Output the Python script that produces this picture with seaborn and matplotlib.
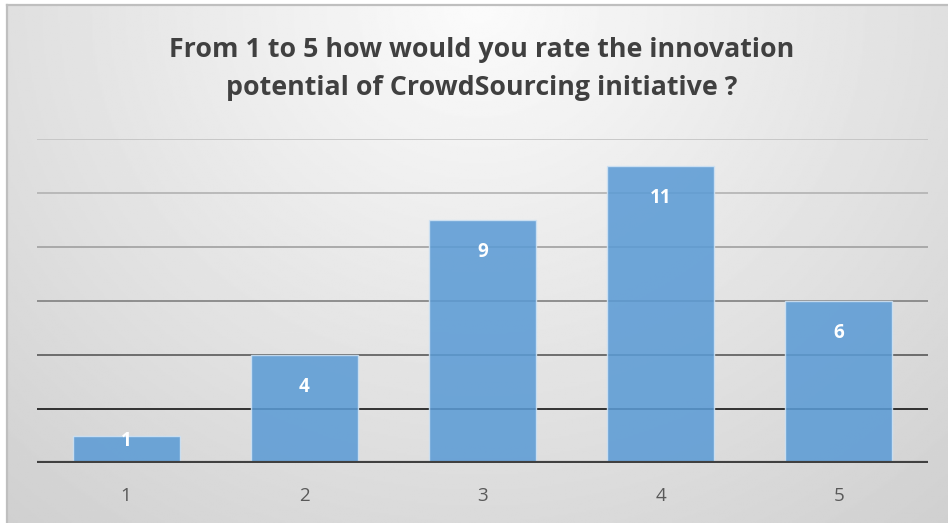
import matplotlib
matplotlib.use('Agg')
import matplotlib.pyplot as plt
import seaborn as sns
import numpy as np
import pandas as pd

# survey answers
ratings = ['1', '2', '3', '4', '5']
counts = [1, 4, 9, 11, 6]
y_ticks = [2, 4, 6, 8, 10, 12]
title_text = 'From 1 to 5 how would you rate the innovation\npotential of CrowdSourcing initiative ?'

sns.set_theme(style='white')
plt.rcParams['font.family'] = ['Open Sans', 'DejaVu Sans']

W, H = 948, 523
fig = plt.figure(figsize=(W / 100, H / 100), dpi=100)
fig.patch.set_facecolor('white')

# chart area background: soft gray gradient, brightest under the title
bg = fig.add_axes([7 / W, 0, (W - 7) / W, (H - 5) / H], zorder=0)
h, w = 300, 540
yy, xx = np.mgrid[0:h, 0:w]
dx = (xx - w * 0.5) / (w * 0.5)
dy = yy / h
shade = 0.985 - np.sqrt((0.11 * dx) ** 2 + (0.13 * dy) ** 2)
bg.imshow(shade, cmap='gray', vmin=0, vmax=1, aspect='auto', extent=[0, 1, 0, 1], origin='upper')
bg.set_xlim(0, 1)
bg.set_ylim(0, 1)
bg.set_xticks([])
bg.set_yticks([])
for side, sp in bg.spines.items():
    sp.set_color('#bfbfbf')
    sp.set_linewidth(1.6)
    if side in ('right', 'bottom'):
        sp.set_visible(False)

ax = fig.add_axes([37 / W, (H - 463) / H, (928 - 37) / W, (463 - 139) / H], zorder=1)
ax.set_facecolor('none')

df = pd.DataFrame({'rating': ratings, 'count': counts})

grid_colors = ['#141414', '#595959', '#808080', '#a0a0a0', '#b2b2b2', '#c2c2c2']
for yv, c in zip(y_ticks, grid_colors):
    ax.axhline(yv, color=c, linewidth=1.2, zorder=1)

sns.barplot(data=df, x='rating', y='count', color='#5b9bd5', saturation=1,
            width=0.6, edgecolor='#d0e3f4', linewidth=1.0, alpha=0.87, ax=ax, zorder=3)

ax.axhline(0, color='#404040', linewidth=3.0, zorder=4)

# value labels just inside the top of each bar
for i, v in enumerate(counts):
    ax.text(i, max(v - 1.38, v * 0.63), str(v), ha='center', va='baseline', color='white',
            fontsize=13.5, fontweight='bold', zorder=5)

ax.set_xlim(-0.5, 4.5)
ax.set_ylim(0, 12)
ax.set_yticks([])
ax.set_xlabel('')
ax.set_ylabel('')
ax.tick_params(axis='x', length=0, labelsize=13.5, labelcolor='#595959', pad=17)
for sp in ax.spines.values():
    sp.set_visible(False)

fig.text(482 / W, 1 - 69 / H, title_text, ha='center', va='center', fontsize=19.3,
         fontweight='bold', color='#404040', linespacing=1.62)

fig.savefig('out.png', dpi=100)
